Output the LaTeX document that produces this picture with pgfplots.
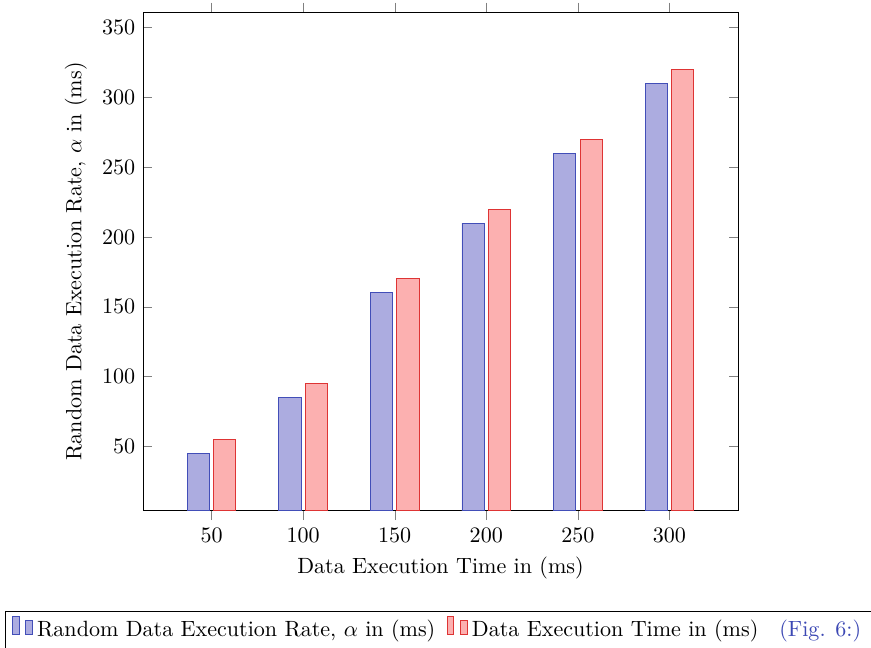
\documentclass[border=0pt]{standalone}
\usepackage{pgfplots}
\pgfplotsset{compat=1.18}
\definecolor{figlink}{RGB}{60,72,180}
\definecolor{bfill}{RGB}{172,172,224}
\definecolor{bdraw}{RGB}{66,78,184}
\definecolor{rfill}{RGB}{252,176,176}
\definecolor{rdraw}{RGB}{222,52,52}

\begin{document}
\begin{tikzpicture}
    \begin{axis}[
            ybar,
            scale only axis,
            width=269.6pt,
            height=226pt,
            enlargelimits=0.15,
            xtick={50,100,150,200,250,300},
            ytick={50,100,...,350},
            xlabel={Data Execution Time in (ms)},
            ylabel={Random Data Execution Rate, $\alpha$ in (ms)},
            legend style={at={(-0.2319,-0.2)},anchor=north west,legend columns=-1,
                /tikz/every even column/.append style={column sep=3.2pt}},
        ]
        \addplot[draw=bdraw,fill=bfill] coordinates {(50,45) (100,85) (150,160) (200,210) (250,260) (300,310)};
        \addlegendentry{Random Data Execution Rate, $\alpha$ in (ms)}
        \addplot[draw=rdraw,fill=rfill] coordinates {(50,55) (100,95) (150,170) (200,220) (250,270) (300,320)};
        \addlegendentry{Data Execution Time in (ms)\hspace{9.5pt}\textcolor{figlink}{(Fig. 6:)}\hspace{6pt}}
        \coordinate (bbsw) at (rel axis cs:-0.2403,-0.2745);
        \coordinate (bbne) at (rel axis cs:1.2235,1.0240);
    \end{axis}
    \pgfresetboundingbox
    \useasboundingbox (bbsw) rectangle (bbne);
\end{tikzpicture}
\end{document}
